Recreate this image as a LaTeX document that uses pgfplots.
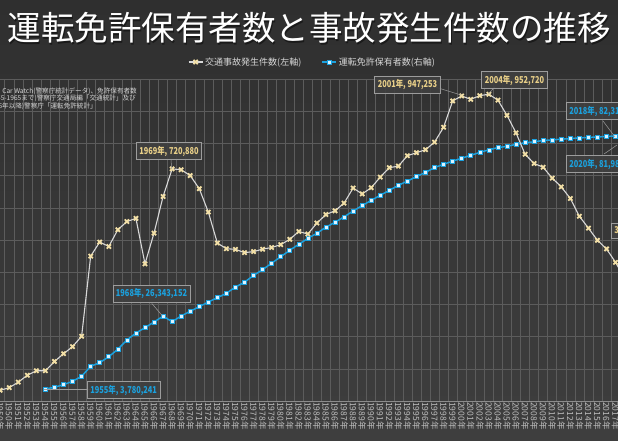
\documentclass[border=0pt]{standalone}
\usepackage{pgfplots}
\pgfplotsset{compat=1.18}
\usepackage{pgfplotstable}
\usepackage{graphicx}
\usepackage{fontspec}
\setmainfont{Noto Sans CJK JP}

\definecolor{bgtop}{HTML}{2F2F2F}
\definecolor{bgmid}{HTML}{4A4A4A}
\definecolor{bgbot}{HTML}{3E3E3E}
\definecolor{gridc}{HTML}{5C5C5C}
\definecolor{basec}{HTML}{8C8C8C}
\definecolor{accline}{HTML}{D8D8D8}
\definecolor{accmark}{HTML}{F2DFA6}
\definecolor{gold}{HTML}{E8CF88}
\definecolor{licblue}{HTML}{1BA1DE}
\definecolor{licfill}{HTML}{DDF3FF}
\definecolor{ticktxt}{HTML}{BEBEBE}
\definecolor{legtxt}{HTML}{D6D6D6}
\definecolor{annobord}{HTML}{9C9C9C}
\definecolor{annofill}{HTML}{404040}

% accidents per year (left axis)
\pgfplotstableread{
year count
1950 33212
1951 41423
1952 58487
1953 80019
1954 93869
1955 93981
1956 122691
1957 146833
1958 168799
1959 201292
1960 449917
1961 493693
1962 479825
1963 531966
1964 557183
1965 567286
1966 425944
1967 521481
1968 635056
1969 720880
1970 718080
1971 700290
1972 659283
1973 586713
1974 490452
1975 472938
1976 471041
1977 460649
1978 464037
1979 471573
1980 476677
1981 485578
1982 502261
1983 526362
1984 518642
1985 552788
1986 579190
1987 590723
1988 614481
1989 661363
1990 643097
1991 662392
1992 695345
1993 724678
1994 729461
1995 761794
1996 771085
1997 780401
1998 803882
1999 850371
2000 931950
2001 947253
2002 936950
2003 948281
2004 952720
2005 934346
2006 887267
2007 832704
2008 766394
2009 737628
2010 725924
2011 692084
2012 665157
2013 629033
2014 573842
2015 536899
2016 499201
2017 472165
2018 430601
2019 381237
2020 309178
}\accidents

% licence holders (right axis)
\pgfplotstableread{
year holders
1955 3780241
1956 4260000
1957 5060000
1958 6120000
1959 7670000
1960 10780000
1961 11900000
1962 13760000
1963 16060000
1964 18950000
1965 21120000
1966 22770000
1967 24540000
1968 26343152
1969 24630000
1970 26400000
1971 27860000
1972 29290000
1973 30750000
1974 32090000
1975 33450000
1976 35400000
1977 36900000
1978 39000000
1979 40800000
1980 42800000
1981 44800000
1982 46800000
1983 48700000
1984 50500000
1985 52100000
1986 54000000
1987 55500000
1988 57200000
1989 59000000
1990 60700000
1991 62300000
1992 63900000
1993 65400000
1994 67000000
1995 68300000
1996 69700000
1997 71000000
1998 72500000
1999 73500000
2000 74500000
2001 75400000
2002 76300000
2003 77200000
2004 78000000
2005 78700000
2006 79100000
2007 79700000
2008 80200000
2009 80500000
2010 80900000
2011 81100000
2012 81300000
2013 81500000
2014 81700000
2015 81850000
2016 82000000
2017 82150000
2018 82314000
2019 82160000
2020 81989000
}\holders

\begin{document}
\begin{tikzpicture}[
  anno/.style={draw=annobord, fill=annofill, fill opacity=0.9, text opacity=1,
    line width=0.6pt, inner xsep=3pt, inner ysep=3.2pt,
    font=\fontsize{9.5}{10}\selectfont\bfseries},
  leader/.style={draw=annobord, line width=0.5pt}]
\useasboundingbox (0pt,0pt) rectangle (618pt,440pt);
\clip (0pt,0pt) rectangle (618pt,440pt);
\shade[top color=bgtop, middle color=bgmid, bottom color=bgbot] (0pt,0pt) rectangle (618pt,440pt);

% right axis: licence holders, carries grid and year labels
\begin{axis}[
  at={(0pt,39pt)}, anchor=south west,
  width=618pt, height=322pt, scale only axis,
  xmin=1949.98, xmax=2018.27,
  ymin=0, ymax=1e8,
  scaled y ticks=false,
  axis line style={draw=none},
  tick style={draw=none},
  ytick={0,1e7,...,1e8}, yticklabels={},
  xtick={1950,...,2020},
  minor xtick={1949.5,1950.5,...,2019.5},
  xmajorgrids=false, xminorgrids=true, ymajorgrids=true,
  major grid style={gridc, line width=0.5pt},
  minor grid style={gridc, line width=0.5pt},
  xticklabel={\pgfmathtruncatemacro\yr{\tick}\yr 年},
  xticklabel style={rotate=-90, anchor=west, text=ticktxt,
    font=\fontsize{8.5}{9}\selectfont, inner sep=1pt},
]
\draw[basec, line width=0.8pt] (rel axis cs:0,0) -- (rel axis cs:1,0);
\addplot[licblue, line width=1.5pt, mark=square*, mark size=2pt,
  mark options={fill=licfill, draw=licblue, line width=0.6pt}]
  table[x=year, y=holders] {\holders};
\end{axis}

% left axis: accidents
\begin{axis}[
  at={(0pt,39pt)}, anchor=south west,
  width=618pt, height=322pt, scale only axis,
  xmin=1949.98, xmax=2018.27,
  ymin=0, ymax=1e6,
  hide axis,
  legend columns=2,
  legend style={at={(0.5057,1)}, anchor=center, yshift=17pt,
    draw=none, fill=none, text=legtxt,
    font=\fontsize{9}{10}\selectfont,
    /tikz/every even column/.append style={column sep=18pt}},
  legend image code/.code={\draw[mark repeat=2, mark phase=2]
    plot coordinates {(0pt,0pt) (7pt,0pt) (14pt,0pt)};},
]
\addplot[accline, line width=1.1pt, mark=x, mark size=3pt,
  mark options={draw=accmark, line width=1.8pt}]
  table[x=year, y=count] {\accidents};
\addlegendentry{交通事故発生件数(左軸)}
\addlegendimage{licblue, line width=1.5pt, mark=square*, mark size=2pt,
  mark options={fill=licfill, draw=licblue, line width=0.6pt}}
\addlegendentry{運転免許保有者数(右軸)}
\end{axis}

% texts and callouts, in picture pixels from the top left
\begin{scope}[x=1pt, y=-1pt, shift={(0pt,440pt)}]
\node[text=black, opacity=0.45, font=\fontsize{33.5}{36}\selectfont] at (310.5,29.5)
  {運転免許保有者数と事故発生件数の推移};
\node[text=white, font=\fontsize{33.5}{36}\selectfont] at (309,28)
  {運転免許保有者数と事故発生件数の推移};

\begin{scope}[every node/.style={text=legtxt, font=\fontsize{6.6}{7}\selectfont, inner sep=0pt, anchor=east}]
\node at (137,91.5) {交通事故件数：Car Watch(警察庁統計データ)、免許保有者数};
\node at (136,98.8) {(1955-1965まで)警察庁交通局編「交通統計」及び};
\node at (97,106.2) {(1966年以降)警察庁「運転免許統計」};
\end{scope}

\draw[leader] (171,160) -- (171.7,169);
\node[anno, text=gold] at (169,151) {\scalebox{0.78}[1]{1969年, 720,880}};
\draw[leader] (435,87) -- (461,95);
\node[anno, text=gold] at (407.5,84.5) {\scalebox{0.78}[1]{2001年, 947,253}};
\draw[leader] (495,86.7) -- (488.5,94);
\node[anno, text=gold] at (514.5,80) {\scalebox{0.78}[1]{2004年, 952,720}};
\draw[leader] (603,121) -- (615,137);
\node[anno, text=licblue, anchor=west] at (566,111) {\scalebox{0.78}[1]{2018年, 82,314,000}};
\draw[leader] (604,154) -- (617,145);
\node[anno, text=licblue, anchor=west] at (566,164) {\scalebox{0.78}[1]{2020年, 81,989,887}};
\node[anno, text=gold, anchor=west] at (611,231) {\scalebox{0.78}[1]{309,178}};
\draw[leader] (151.7,303.3) -- (162.3,315.7);
\node[anno, text=licblue] at (151.5,293.7) {\scalebox{0.78}[1]{1968年, 26,343,152}};
\draw[leader] (44,389) -- (90.7,389);
\node[anno, text=licblue] at (123.7,390) {\scalebox{0.78}[1]{1955年, 3,780,241}};
\end{scope}
\end{tikzpicture}
\end{document}
